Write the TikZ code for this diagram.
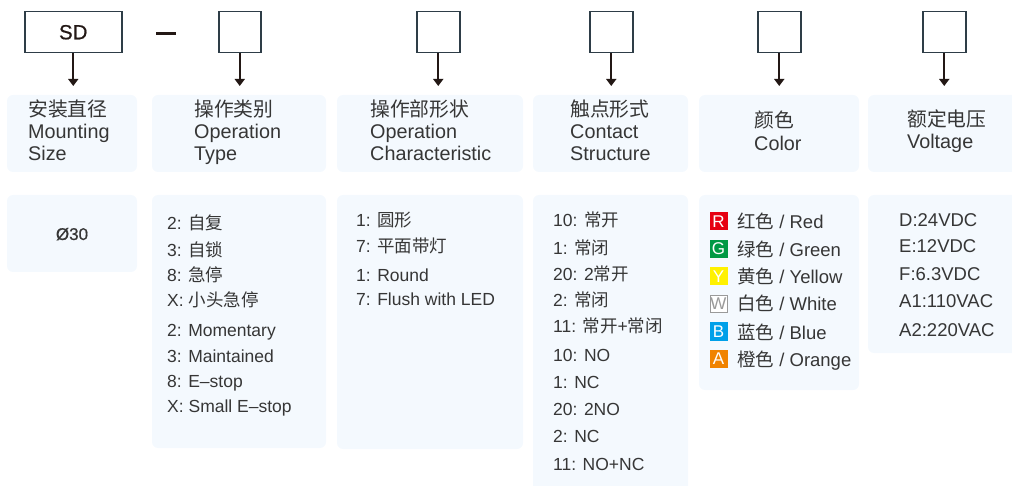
\documentclass[tikz,border=0pt]{standalone}
\usepackage{fontspec}
\setmainfont{Liberation Sans}
\newfontfamily\cjk{Noto Sans CJK SC}
\newfontfamily\sdfont[FakeBold=0.6]{Liberation Sans}
\usetikzlibrary{arrows.meta}
\definecolor{panelfill}{HTML}{F4F9FE}
\definecolor{boxline}{HTML}{2E3D47}
\definecolor{arrowcol}{HTML}{231815}
\definecolor{txt}{HTML}{363636}
\definecolor{iR}{HTML}{E60012}
\definecolor{iG}{HTML}{009944}
\definecolor{iY}{HTML}{FFF100}
\definecolor{iW}{HTML}{9A9A9A}
\definecolor{iB}{HTML}{00A0E9}
\definecolor{iA}{HTML}{F08300}
\newcommand{\zh}[1]{{\cjk #1}}
\tikzset{
  codebox/.style={draw=boxline, line width=1.5pt, fill=white},
  panel/.style={fill=panelfill, rounded corners=6pt},
  conn/.style={draw=arrowcol, line width=2pt, -{Triangle[width=10pt,length=7pt]}},
  hd/.style={anchor=base west, text=txt, font=\fontsize{19.8}{19.8}\selectfont, inner sep=0pt},
  it/.style={anchor=base west, text=txt, font=\fontsize{17.5}{17.5}\selectfont, inner sep=0pt},
  vt/.style={anchor=base west, text=txt, font=\fontsize{18.5}{18.5}\selectfont, inner sep=0pt},
  ico/.style={minimum width=18pt, minimum height=18pt, inner sep=0pt, text=white, font=\fontsize{17}{17}\selectfont},
}
\begin{document}
\begin{tikzpicture}[x=1pt,y=-1pt]
\useasboundingbox (0,0) rectangle (1012,486);
% top code boxes
\node[codebox, minimum width=97pt, minimum height=41pt, anchor=north west, inner sep=0pt, font=\sdfont\fontsize{20.5}{20.5}\selectfont, text=arrowcol] (b1) at (24,11) {SD};
\node[codebox, minimum width=42pt, minimum height=41pt, anchor=north west] (b2) at (218,11) {};
\node[codebox, minimum width=43pt, minimum height=41pt, anchor=north west] (b3) at (416,11) {};
\node[codebox, minimum width=43pt, minimum height=41pt, anchor=north west] (b4) at (589,11) {};
\node[codebox, minimum width=43pt, minimum height=41pt, anchor=north west] (b5) at (757,11) {};
\node[codebox, minimum width=43pt, minimum height=41pt, anchor=north west] (b6) at (922,11) {};
\draw[arrowcol, line width=3pt] (156,33.5) -- (176,33.5);
% header panels
\fill[panel] (7,95) rectangle (137,172);
\fill[panel] (152,95) rectangle (326,172);
\fill[panel] (337,95) rectangle (523,172);
\fill[panel] (533,95) rectangle (688,172);
\fill[panel] (699,95) rectangle (859,172);
\fill[panel] (868,95) rectangle (1020,172);
\coordinate (h1) at (72.5,95);
\coordinate (h2) at (239,95);
\coordinate (h3) at (437.5,95);
\coordinate (h4) at (610.5,95);
\coordinate (h5) at (778.5,95);
\coordinate (h6) at (943.5,95);
\foreach \i in {1,...,6}{ \draw[conn, shorten >=9pt] (b\i.south) -- (b\i.south |- h\i); }
% header texts
\node[hd] (t11) at (28,117) {\zh{安装直径}};
\node[hd] (t12) at (28,139) {Mounting};
\node[hd] (t13) at (28,161) {Size};
\node[hd] (t21) at (194,117) {\zh{操作类别}};
\node[hd] (t22) at (194,139) {Operation};
\node[hd] (t23) at (194,161) {Type};
\node[hd] (t31) at (370,117) {\zh{操作部形状}};
\node[hd] (t32) at (370,139) {Operation};
\node[hd] (t33) at (370,161) {Characteristic};
\node[hd] (t41) at (570,117) {\zh{触点形式}};
\node[hd] (t42) at (570,139) {Contact};
\node[hd] (t43) at (570,161) {Structure};
\node[hd] (t51) at (754,128) {\zh{颜色}};
\node[hd] (t52) at (754,151) {Color};
\node[hd] (t61) at (907,127) {\zh{额定电压}};
\node[hd] (t62) at (907,149) {Voltage};
% detail panels
\fill[panel] (7,195) rectangle (137,272);
\fill[panel] (152,195) rectangle (326,448);
\fill[panel] (337,195) rectangle (523,449);
\fill[panel] (533,195) rectangle (688,492);
\fill[panel] (699,195) rectangle (859,390);
\fill[panel] (868,195) rectangle (1020,353);
% panel 1
\node[anchor=base, text=txt, font=\sdfont\fontsize{17}{17}\selectfont, inner sep=0pt] (d1) at (72,240) {Ø30};
% panel 2
\node[it] (d21) at (167,230) {2: \zh{自复}};
\node[it] (d22) at (167,257) {3: \zh{自锁}};
\node[it] (d23) at (167,282) {8: \zh{急停}};
\node[it] (d24) at (167,307) {X: \zh{小头急停}};
\node[it] (d25) at (167,337) {2: Momentary};
\node[it] (d26) at (167,362) {3: Maintained};
\node[it] (d27) at (167,387) {8: E\textendash stop};
\node[it] (d28) at (167,412) {X: Small E\textendash stop};
% panel 3
\node[it] (d31) at (356,227) {1: \zh{圆形}};
\node[it] (d32) at (356,253) {7: \zh{平面带灯}};
\node[it] (d33) at (356,282) {1: Round};
\node[it] (d34) at (356,306) {7: Flush with LED};
% panel 4
\node[it] (d41) at (553,227) {10: \zh{常开}};
\node[it] (d42) at (553,255) {1: \zh{常闭}};
\node[it] (d43) at (553,281) {20: 2\zh{常开}};
\node[it] (d44) at (553,307) {2: \zh{常闭}};
\node[it] (d45) at (553,332) {11: \zh{常开}+\zh{常闭}};
\node[it] (d46) at (553,361) {10: NO};
\node[it] (d47) at (553,388) {1: NC};
\node[it] (d48) at (553,415) {20: 2NO};
\node[it] (d49) at (553,442) {2: NC};
\node[it] (d410) at (553,470) {11: NO+NC};
% panel 5
\node[ico, fill=iR] (iR) at (718.5,221.5) {R};
\node[ico, fill=iG] (iG) at (718.5,249) {G};
\node[ico, fill=iY] (iY) at (718.5,276.5) {Y};
\node[ico, fill=white, draw=iW, line width=1pt, text=iW, minimum width=17pt, minimum height=17pt] (iW) at (718.5,304) {W};
\node[ico, fill=iB] (iB) at (718.5,331.5) {B};
\node[ico, fill=iA] (iA) at (718.5,358.5) {A};
\node[it, font=\fontsize{18.5}{18.5}\selectfont] (d51) at (737,229) {\zh{红色} / Red};
\node[it, font=\fontsize{18.5}{18.5}\selectfont] (d52) at (737,257) {\zh{绿色} / Green};
\node[it, font=\fontsize{18.5}{18.5}\selectfont] (d53) at (737,284) {\zh{黄色} / Yellow};
\node[it, font=\fontsize{18.5}{18.5}\selectfont] (d54) at (737,311) {\zh{白色} / White};
\node[it, font=\fontsize{18.5}{18.5}\selectfont] (d55) at (737,339) {\zh{蓝色} / Blue};
\node[it, font=\fontsize{18.5}{18.5}\selectfont] (d56) at (737,366) {\zh{橙色} / Orange};
% panel 6
\node[vt] (d61) at (899,227) {D:24VDC};
\node[vt] (d62) at (899,253) {E:12VDC};
\node[vt] (d63) at (899,281) {F:6.3VDC};
\node[vt] (d64) at (899,308) {A1:110VAC};
\node[vt] (d65) at (899,336) {A2:220VAC};
\end{tikzpicture}
\end{document}
